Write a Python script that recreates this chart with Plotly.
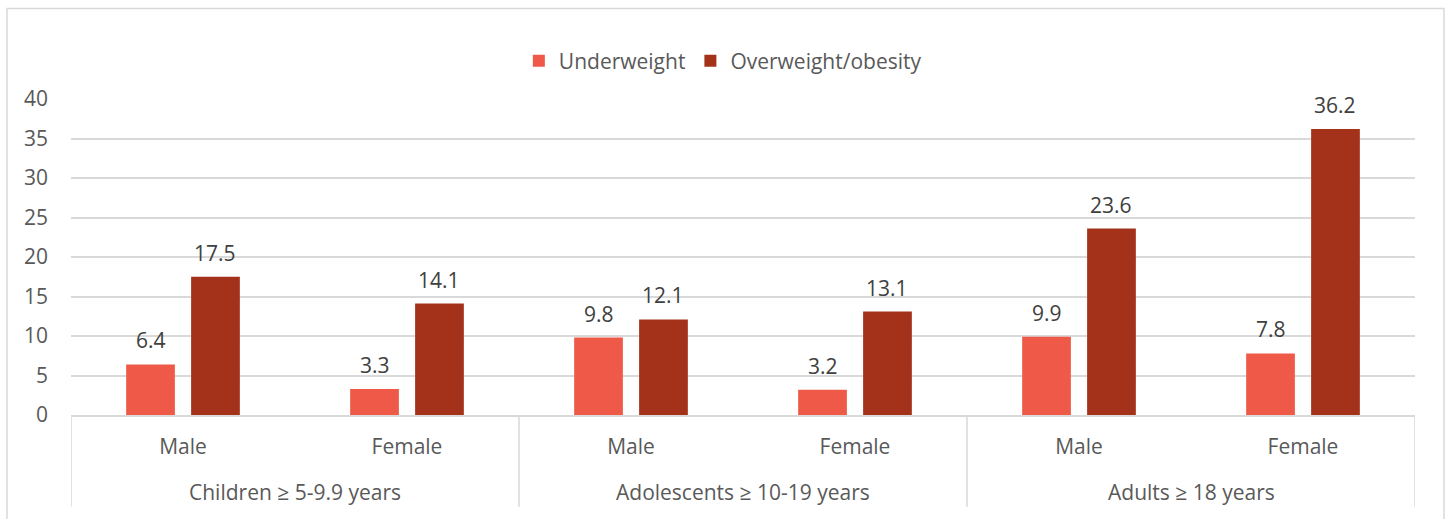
import plotly.graph_objects as go

groups = ["Children ≥ 5-9.9 years", "Adolescents ≥ 10-19 years", "Adults ≥ 18 years"]
sexes = ["Male", "Female"]
underweight = [6.4, 3.3, 9.8, 3.2, 9.9, 7.8]
overweight = [17.5, 14.1, 12.1, 13.1, 23.6, 36.2]
y_ticks = [0, 5, 10, 15, 20, 25, 30, 35, 40]

FONT = "Open Sans"
FS = 21
GRAY_TXT = "#595959"
LINE = "#D9D9D9"
C_UNDER = "#EE5A47"
C_OVER = "#A4321A"

keys = [f"{g}|{s}" for g in groups for s in sexes]
tick_text = [s for g in groups for s in sexes]

fig = go.Figure()
fig.add_trace(go.Bar(x=keys, y=underweight, name="Underweight", marker_color=C_UNDER,
                     marker_line_width=0))
fig.add_trace(go.Bar(x=keys, y=overweight, name="Overweight/obesity", marker_color=C_OVER,
                     marker_line_width=0))

# data labels
for i, k in enumerate(keys):
    for val, shift in ((underweight[i], -32), (overweight[i], 32)):
        fig.add_annotation(x=k, y=val, text=f"{val:.1f}", showarrow=False,
                           xshift=shift, yshift=24, yanchor="middle",
                           font=dict(family=FONT, size=FS, color="#404040"))

# group labels
for gi, g in enumerate(groups):
    fig.add_annotation(x=gi * 2 + 0.5, xref="x", y=-0.245, yref="paper", text=g,
                       showarrow=False, yanchor="middle",
                       font=dict(family=FONT, size=FS, color=GRAY_TXT))

# dividers
for b in range(len(groups) + 1):
    fig.add_shape(type="line", xref="x", yref="paper", x0=b * 2 - 0.5, x1=b * 2 - 0.5,
                  y0=0, y1=-0.29, line=dict(color=LINE, width=1.5))

# outer border
fig.add_shape(type="rect", xref="paper", yref="paper",
              x0=-64 / 1344, x1=1373 / 1344, y0=-0.5, y1=(415 - 8.5) / 316,
              line=dict(color=LINE, width=1.5), fillcolor="rgba(0,0,0,0)", layer="below")

fig.update_layout(
    width=1448, height=519,
    margin=dict(l=71, r=33, t=99, b=104),
    paper_bgcolor="white", plot_bgcolor="white",
    barmode="group", bargap=0.42, bargroupgap=0.25,
    font=dict(family=FONT, size=FS, color=GRAY_TXT),
    showlegend=True,
    legend=dict(orientation="h", x=0.485, xanchor="center", y=(415 - 61) / 316,
                yanchor="middle", font=dict(family=FONT, size=FS, color=GRAY_TXT),
                itemwidth=30, traceorder="normal"),
    xaxis=dict(tickmode="array", tickvals=keys, ticktext=tick_text,
               showgrid=False, showline=True, linecolor=LINE, linewidth=1.5,
               ticks="", ticklabelstandoff=12, range=[-0.5, 5.5],
               tickfont=dict(family=FONT, size=FS, color=GRAY_TXT)),
    yaxis=dict(range=[0, 40], tickvals=y_ticks, showgrid=True, gridcolor=LINE,
               gridwidth=1.5, zeroline=False, showline=False, ticks="",
               ticklabelstandoff=22,
               tickfont=dict(family=FONT, size=FS, color=GRAY_TXT)),
)

fig.write_html("out.html")
